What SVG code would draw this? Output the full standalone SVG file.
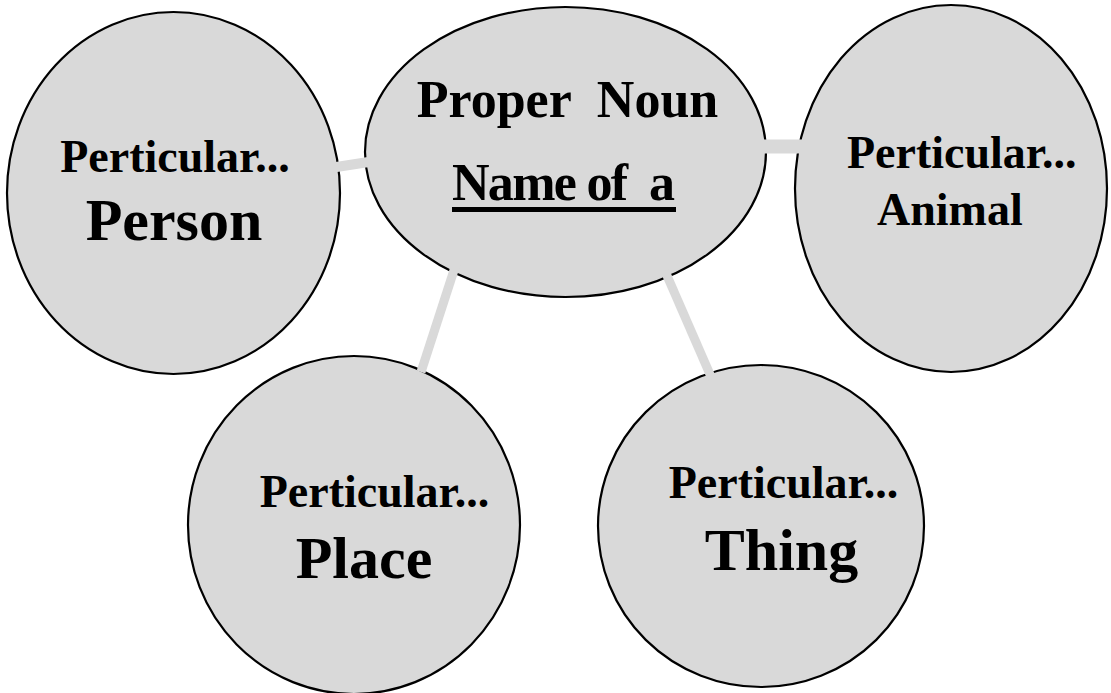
<svg xmlns="http://www.w3.org/2000/svg" width="1111" height="693" viewBox="0 0 1111 693">
<style>
.node{fill:#d9d9d9;stroke:#000;stroke-width:2.2}
.conn{stroke:#d9d9d9;fill:none;stroke-linecap:butt}
text{font-family:"Liberation Serif","Times New Roman",serif;font-weight:bold;fill:#000}
.s{font-size:46px}
.b{font-size:60px}
.c{font-size:52px}
</style>
<rect width="1111" height="693" fill="#fff"/>
<g id="node-person">
<ellipse class="node" cx="173.5" cy="193" rx="166.5" ry="181"/>
<text class="s" x="175" y="172" text-anchor="middle">Perticular...</text>
<text class="b" x="174" y="240" text-anchor="middle">Person</text>
</g>
<g id="node-proper-noun">
<ellipse class="node" cx="565.5" cy="152" rx="200.5" ry="145"/>
<text class="c" x="567.5" y="117" text-anchor="middle" xml:space="preserve">Proper  Noun</text>
<text class="c" x="452" y="200" textLength="223" xml:space="preserve">Name of  a</text>
<rect x="452" y="207" width="224" height="5" fill="#000"/>
</g>
<g id="node-animal">
<ellipse class="node" cx="951" cy="188.5" rx="156" ry="183.5"/>
<text class="s" x="847" y="168">Perticular...</text>
<text class="s" x="877" y="225">Animal</text>
</g>
<g id="node-place">
<ellipse class="node" cx="354" cy="525" rx="166" ry="169"/>
<text class="s" x="374.5" y="507" text-anchor="middle">Perticular...</text>
<text class="b" x="364" y="578" text-anchor="middle">Place</text>
</g>
<g id="node-thing">
<ellipse class="node" cx="761" cy="526" rx="163" ry="161"/>
<text class="s" x="783.5" y="498" text-anchor="middle">Perticular...</text>
<text class="b" x="781.5" y="570" text-anchor="middle">Thing</text>
</g>
<g id="connectors">
<line class="conn" x1="330" y1="168" x2="375" y2="161" stroke-width="10"/>
<line class="conn" x1="755" y1="146.5" x2="812" y2="146.5" stroke-width="14"/>
<line class="conn" x1="456" y1="264" x2="421" y2="372" stroke-width="9"/>
<line class="conn" x1="665" y1="271" x2="712" y2="379" stroke-width="9"/>
</g>
</svg>
